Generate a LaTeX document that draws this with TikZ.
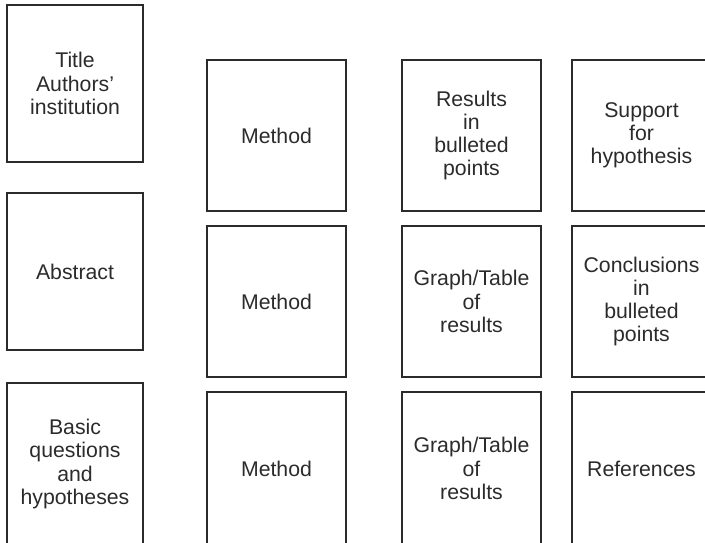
\documentclass[tikz,border=0pt]{standalone}
\usepackage{fontspec}
\setmainfont{Liberation Sans}
\definecolor{ink}{HTML}{2B2B2B}

\begin{document}
\begin{tikzpicture}[x=0.02cm,y=-0.02cm,
    panel/.style={draw=ink,line width=0.6pt,text=ink,align=center,
      inner sep=0pt,font=\fontsize{12.1}{13.2}\selectfont}]
  \useasboundingbox (0,0) rectangle (705,543);
  \clip (0,0) rectangle (705,543);
  % panels: name / left / top / right / bottom / text
  \foreach \nm/\xa/\ya/\xb/\yb/\txt in {
     title/7/5/143/162/{Title\\Authors'\\institution},
     abstract/7/193/143/350/{Abstract},
     questions/7/383/143/545/{Basic\\questions\\and\\hypotheses},
     methodA/207/60/346/211/{Method},
     methodB/207/226/346/377/{Method},
     methodC/207/392/346/545/{Method},
     results/402/60/541/211/{Results\\in\\bulleted\\points},
     graphA/402/226/541/377/{Graph/Table\\of\\results},
     graphB/402/392/541/545/{Graph/Table\\of\\results},
     support/572/60/711/211/{Support\\for\\hypothesis},
     conclusions/572/226/711/377/{Conclusions\\in\\bulleted\\points},
     references/572/392/711/545/{References}}{
       \pgfmathsetmacro\ww{(\xb-\xa)*0.02}
       \pgfmathsetmacro\hh{(\yb-\ya)*0.02}
       \node[panel,minimum width=\ww cm,minimum height=\hh cm]
         (\nm) at ({(\xa+\xb)/2},{(\ya+\yb)/2}) {\txt};
  }
\end{tikzpicture}
\end{document}
